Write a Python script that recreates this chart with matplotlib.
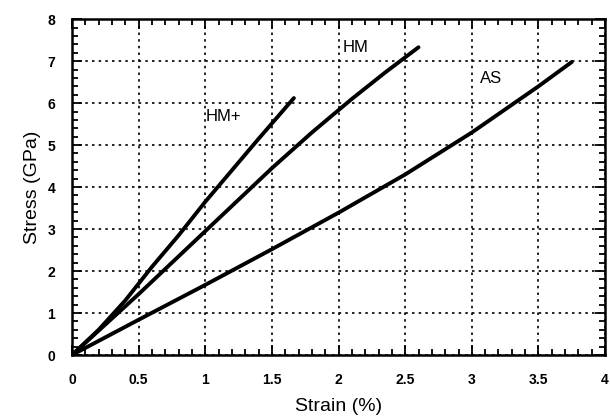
import matplotlib
matplotlib.use("Agg")
import matplotlib.pyplot as plt
from matplotlib.ticker import MultipleLocator

# strain (%) vs stress (GPa)
hmp_strain = [0, 0.2, 0.4, 0.6, 0.8, 1.0, 1.2, 1.4, 1.665]
hmp_stress = [0, 0.6, 1.3, 2.1, 2.85, 3.65, 4.4, 5.15, 6.12]

hm_strain = [0, 0.5, 1.0, 1.5, 1.8, 2.1, 2.35, 2.6]
hm_stress = [0, 1.45, 2.95, 4.45, 5.3, 6.1, 6.73, 7.33]

as_strain = [0, 0.5, 1.0, 1.5, 2.0, 2.5, 3.0, 3.5, 3.75]
as_stress = [0, 0.84, 1.67, 2.52, 3.39, 4.3, 5.3, 6.4, 6.98]

labels = ["HM+", "HM", "AS"]
label_pos = [(1.0, 5.69), (2.03, 7.32), (3.06, 6.58)]

fig = plt.figure(figsize=(6.1, 4.16), dpi=100)
ax = fig.add_axes([0.118, 0.1466, 0.874, 0.8074])

for xs, ys in [(hmp_strain, hmp_stress), (hm_strain, hm_stress), (as_strain, as_stress)]:
    ax.plot(xs, ys, color="black", lw=2.8, solid_capstyle="round", solid_joinstyle="round")

for lab, (lx, ly) in zip(labels, label_pos):
    ax.text(lx, ly, lab, fontsize=12, family="Liberation Sans", va="center", ha="left")

ax.set_xlim(0, 4)
ax.set_ylim(0, 8)
ax.xaxis.set_minor_locator(MultipleLocator(0.1))
ax.yaxis.set_major_locator(MultipleLocator(1))
ax.yaxis.set_minor_locator(MultipleLocator(0.2))
ax.set_xticks([0, 0.5, 1, 1.5, 2, 2.5, 3, 3.5, 4])
ax.set_xticklabels(["0", "0.5", "1", "1.5", "2", "2.5", "3", "3.5", "4"])

ax.grid(True, which="major", color="black", linestyle=(0, (1.5, 2.5)), lw=1.2)
ax.tick_params(which="both", direction="in", top=True, right=True, color="black", width=1.3)
ax.tick_params(which="major", length=7, labelsize=10)
ax.tick_params(axis="x", which="major", pad=13)
ax.tick_params(axis="y", which="major", pad=12)
ax.tick_params(which="minor", length=4)
for lab in ax.get_xticklabels() + ax.get_yticklabels():
    lab.set_fontweight("bold")
    lab.set_family("Liberation Sans")
for sp in ax.spines.values():
    sp.set_linewidth(1.8)

ax.set_xlabel("Strain (%)", fontsize=14, family="Liberation Sans", labelpad=8)
ax.set_ylabel("Stress (GPa)", fontsize=14, family="Liberation Sans", labelpad=5)

fig.savefig("out.png", dpi=100)
